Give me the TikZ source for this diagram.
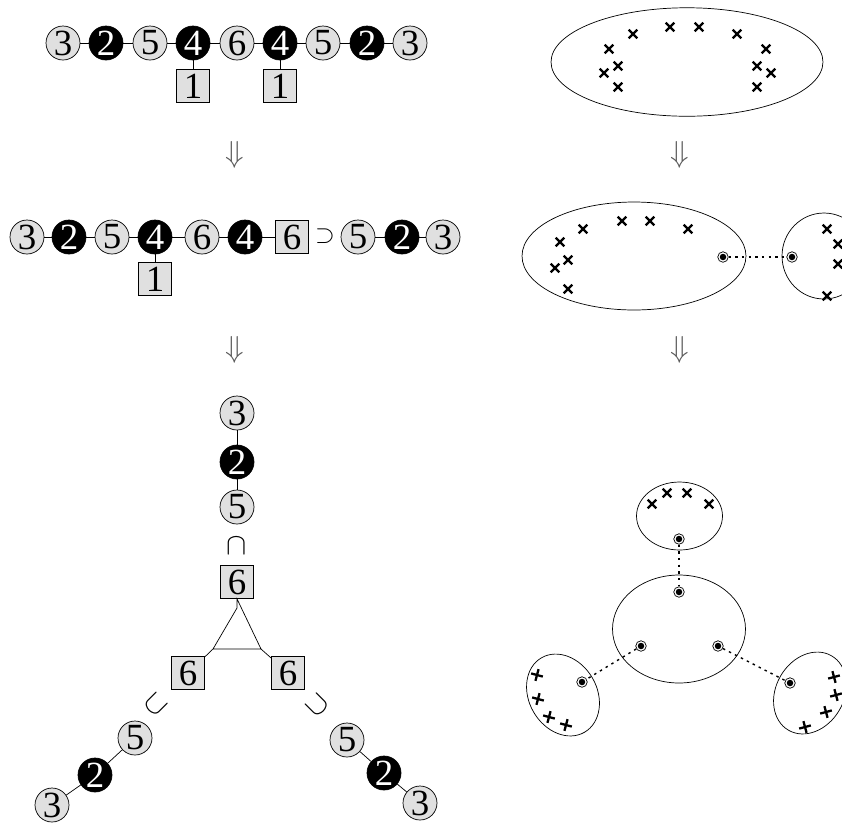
\documentclass[tikz,border=0pt]{standalone}
\usepackage{fontspec}
\setmainfont{Liberation Serif}
\usepackage{amsmath, amssymb}
\usetikzlibrary{shapes.geometric, shapes.misc}
\definecolor{nodeFill}{RGB}{224, 224, 224}
\definecolor{arrowGray}{RGB}{90, 90, 90}

\begin{document}
\begin{tikzpicture}[
  x=0.02cm, y=-0.02cm,
  font=\fontsize{21}{23}\selectfont,
  lite/.style={circle, draw, thin, fill=nodeFill, minimum size=6.8mm, inner sep=0pt},
  dark/.style={circle, draw, thin, fill=black, text=white, minimum size=6.8mm, inner sep=0pt},
  flav/.style={rectangle, draw, thin, fill=nodeFill, minimum size=6.6mm, inner sep=0pt},
  sym/.style={inner sep=0pt, font=\fontsize{18}{20}\selectfont},
  turn/.style={inner sep=0pt, text=arrowGray, font=\fontsize{17}{19}\selectfont},
  blob/.style={ellipse, draw, thin, inner sep=0pt},
  joint/.style={circle, draw, thin, minimum size=2.1mm, inner sep=0pt,
    path picture={\fill (path picture bounding box.center) circle (0.65mm);}},
  xmark/.style={cross out, draw, line width=1.3pt, minimum size=1.25mm, inner sep=0pt},
  glue/.style={line width=0.8pt, dash pattern=on 1.4pt off 2.4pt}
]
  \useasboundingbox (0,0) rectangle (842,823);
  \clip (0,0) rectangle (842,823);

  % quiver before
  \node[lite] (a1) at (63,43)  {3};
  \node[dark] (a2) at (106,43) {2};
  \node[lite] (a3) at (150,43) {5};
  \node[dark] (a4) at (193,43) {4};
  \node[lite] (a5) at (237,43) {6};
  \node[dark] (a6) at (280,43) {4};
  \node[lite] (a7) at (323,43) {5};
  \node[dark] (a8) at (367,43) {2};
  \node[lite] (a9) at (410,43) {3};
  \node[flav] (f1) at (193,86) {1};
  \node[flav] (f2) at (280,86) {1};
  \draw (a1) -- (a2) -- (a3) -- (a4) -- (a5) -- (a6) -- (a7) -- (a8) -- (a9);
  \draw (a4) -- (f1);
  \draw (a6) -- (f2);

  % quiver after one step
  \node[lite] (b1) at (27,237)  {3};
  \node[dark] (b2) at (69,237)  {2};
  \node[lite] (b3) at (112,237) {5};
  \node[dark] (b4) at (155,237) {4};
  \node[lite] (b5) at (202,237) {6};
  \node[dark] (b6) at (245,237) {4};
  \node[flav] (b7) at (292,237) {6};
  \node[sym, font=\fontsize{15}{17}\selectfont] (bs) at (325,236) {$\supset$};
  \node[lite] (b8) at (358,237) {5};
  \node[dark] (b9) at (402,237) {2};
  \node[lite] (b10) at (443,237) {3};
  \node[flav] (f3) at (155,279) {1};
  \draw (b1) -- (b2) -- (b3) -- (b4) -- (b5) -- (b6) -- (b7);
  \draw (b8) -- (b9) -- (b10);
  \draw (b4) -- (f3);

  % star-shaped quiver
  \node[lite] (c3) at (237,413) {3};
  \node[dark] (c2) at (237,462) {2};
  \node[lite] (c5) at (237,507) {5};
  \node[sym] (ccap) at (237,546) {$\cap$};
  \node[flav] (cf) at (237,582) {6};
  \coordinate (tA) at (237,608);
  \coordinate (tL) at (213,649);
  \coordinate (tR) at (261,649);
  \node[flav] (lf) at (188,673) {6};
  \node[flav] (rf) at (288,673) {6};
  \node[sym, rotate=-45] (lcup) at (156,705) {$\cup$};
  \node[sym, rotate=45] (rcup) at (318,705) {$\cup$};
  \node[lite] (l5) at (135,738) {5};
  \node[dark] (l2) at (95,775)  {2};
  \node[lite] (l3) at (52,805)  {3};
  \node[lite] (r5) at (347,740) {5};
  \node[dark] (r2) at (384,773) {2};
  \node[lite] (r3) at (420,803) {3};
  \draw (c3) -- (c2) -- (c5);
  \draw (cf) -- (tA) -- (tL) -- (tR) -- cycle;
  \draw (tL) -- (lf);
  \draw (tR) -- (rf);
  \draw (l5) -- (l2) -- (l3);
  \draw (r5) -- (r2) -- (r3);

  % degeneration arrows
  \node[turn] (d1) at (235,155) {$\Downarrow$};
  \node[turn] (d2) at (235,350) {$\Downarrow$};
  \node[turn] (d3) at (680,155) {$\Downarrow$};
  \node[turn] (d4) at (680,350) {$\Downarrow$};

  % curves: one component
  \node[blob, minimum width=5.44cm, minimum height=2.17cm] (e0) at (687,62) {};
  \foreach [count=\i] \p in {(609,49),(633,34),(670,27),(699,27),(737,34),(766,49),
      (618,66),(604,73),(618,87),(757,66),(771,73),(757,87)}
    \node[xmark] (x0\i) at \p {};

  % two components
  \node[blob, minimum width=4.48cm, minimum height=2.16cm] (e1) at (634,256) {};
  \node[blob, minimum width=1.68cm, minimum height=1.72cm] (e2) at (824,256) {};
  \foreach [count=\i] \p in {(560,242),(583,229),(622,221),(650,221),(688,229),
      (568,260),(555,268),(568,289)}
    \node[xmark] (x1\i) at \p {};
  \foreach [count=\i] \p in {(827,229),(838,244),(838,264),(827,296)}
    \node[xmark] (x2\i) at \p {};
  \node[joint] (p1) at (723,257) {};
  \node[joint] (p2) at (792,257) {};
  \draw[glue] (p1) -- (p2);

  % four components
  \node[blob, minimum width=1.72cm, minimum height=1.36cm] (g0) at (679.5,516) {};
  \node[blob, minimum width=2.66cm, minimum height=2.16cm] (g1) at (679,629) {};
  \node[blob, minimum width=1.72cm, minimum height=1.36cm, rotate=-60] (gL) at (563,695) {};
  \node[blob, minimum width=1.72cm, minimum height=1.36cm, rotate=60] (gR) at (810,693) {};
  \foreach [count=\i] \p in {(652,504),(667,493),(687,493),(709,504)}
    \node[xmark] (y0\i) at \p {};
  \foreach [count=\i] \p in {(537,675),(538,699),(549,717),(566,725)}
    \node[xmark, rotate=-60] (yL\i) at \p {};
  \foreach [count=\i] \p in {(834,677),(836,695),(826,712),(805,727)}
    \node[xmark, rotate=60] (yR\i) at \p {};
  \node[joint] (q0) at (679,539) {};
  \node[joint] (q1) at (679,592) {};
  \node[joint] (q2) at (641,646) {};
  \node[joint] (q3) at (718,646) {};
  \node[joint] (qL) at (582,682) {};
  \node[joint] (qR) at (790,683) {};
  \draw[glue] (q0) -- (q1);
  \draw[glue] (q2) -- (qL);
  \draw[glue] (q3) -- (qR);
\end{tikzpicture}
\end{document}
